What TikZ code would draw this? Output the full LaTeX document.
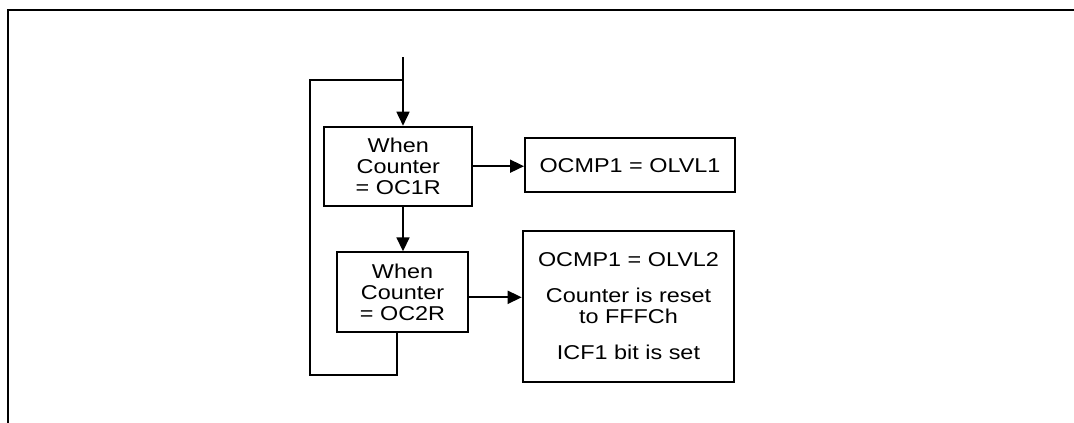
\documentclass[tikz,border=0pt]{standalone}
\usepackage{fontspec}
\setmainfont[FakeStretch=1.17]{Liberation Sans}
\usepackage{tikz}
\usetikzlibrary{arrows.meta,positioning,calc}

\begin{document}
\begin{tikzpicture}[x=1pt, y=-1pt,
    cbox/.style={draw, line width=2pt, inner sep=0pt, align=center,
                 font=\fontsize{20}{21}\selectfont},
    line/.style={line width=1.7pt},
    arr/.style={line width=1.7pt, -{Triangle[length=14pt,width=13pt]}},
]
\useasboundingbox (0,0) rectangle (1074,423);
% Frame
\draw[line width=2.5pt] (8,423) -- (8,10) -- (1074,10);

% Compare boxes
\node[cbox, minimum width=148pt, minimum height=79pt] (cmp1) at (398.3,166.2)
    {When\\Counter\\= OC1R};
\node[cbox, minimum width=131.6pt, minimum height=80pt] (cmp2) at (402.5,292.3)
    {When\\Counter\\= OC2R};

% Actions
\node[cbox, minimum width=210pt, minimum height=54pt] (act1) at (630,165.3)
    {OCMP1 = OLVL1};
\node[cbox, minimum width=211.6pt, minimum height=150.7pt] (act2) at (628.5,306.4)
    {OCMP1 = OLVL2\\[15pt]Counter is reset\\to FFFCh\\[15pt]ICF1 bit is set};

% Input and loop
\coordinate (in) at (403,57);
\coordinate (jn) at (403,80);
\coordinate (lp) at (397,375);
\coordinate (lpl) at (310,375);
\draw[arr] (in) -- (in |- cmp1.north);
\draw[arr] (in |- cmp1.south) -- (in |- cmp2.north);
\draw[line] (lp |- cmp2.south) -- (lp) -- (lpl) |- (jn);

% Arrows to actions
\draw[arr] (cmp1.east) -- (cmp1.east -| act1.west);
\draw[arr] ([yshift=-5pt]cmp2.east) -- ([yshift=-5pt]cmp2.east -| act2.west);
\end{tikzpicture}
\end{document}
